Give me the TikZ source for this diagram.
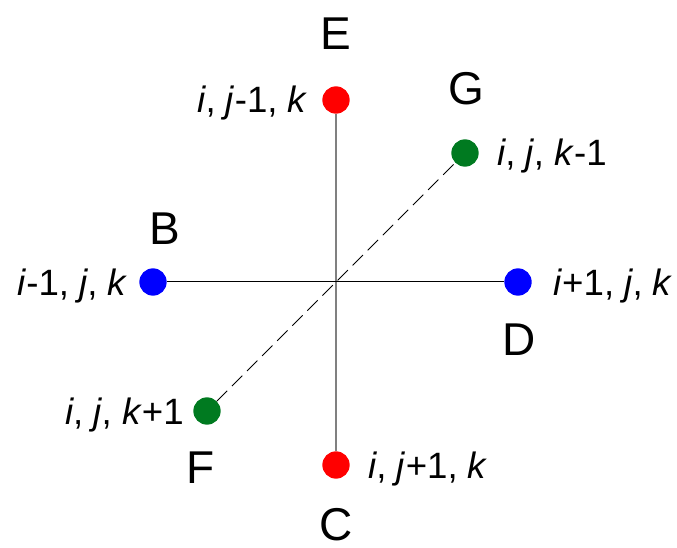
\documentclass[tikz,border=0pt]{standalone}
\usepackage{fontspec}
\setmainfont{Liberation Sans}
\begin{document}
\begin{tikzpicture}[x=0.75pt,y=-0.75pt,
  dot/.style={circle, inner sep=0pt, minimum size=20.5pt},
  reddot/.style={dot, fill={rgb,255:red,255;green,0;blue,0}},
  bluedot/.style={dot, fill={rgb,255:red,0;green,0;blue,255}},
  greendot/.style={dot, fill={rgb,255:red,0;green,122;blue,32}},
  lbl/.style={font=\fontsize{27.5}{32}\selectfont, inner sep=0pt},
  letter/.style={font=\fontsize{34.5}{40}\selectfont, inner sep=0pt, anchor=base},
  vline/.style={draw={rgb,255:red,128;green,128;blue,128}, line width=1pt},
  hline/.style={draw=black, line width=0.75pt},
  dline/.style={draw=black, line width=0.6pt, dash pattern=on 11pt off 5pt}]
\useasboundingbox (0,0) rectangle (677,548);
% dots
\node[reddot] (E) at (336,100) {};
\node[reddot] (C) at (336,465) {};
\node[bluedot] (B) at (153,282) {};
\node[bluedot] (D) at (518,282) {};
\node[greendot] (G) at (465,153) {};
\node[greendot] (F) at (207,411) {};
% connectors
\draw[vline] (E) -- (C);
\draw[hline] (B) -- (D);
\draw[dline] (F) -- (G);
% letters
\node[letter] (tE) at (336,50) {E};
\node[letter] (tG) at (466,105) {G};
\node[letter] (tB) at (164.5,245) {B};
\node[letter] (tD) at (519.5,355) {D};
\node[letter] (tF) at (200.5,483) {F};
\node[letter] (tC) at (336.5,540) {C};
% labels
\node[lbl, anchor=base east] (lE) at (308,113) {\textit{i}, \textit{j}-1, \textit{k}};
\node[lbl, anchor=base west] (lG) at (497,166) {\textit{i}, \textit{j}, \textit{k}-1};
\node[lbl, anchor=base east] (lB) at (128,296) {\textit{i}-1, \textit{j}, \textit{k}};
\node[lbl, anchor=base west] (lD) at (553,296) {\textit{i}+1, \textit{j}, \textit{k}};
\node[lbl, anchor=base east] (lF) at (184,424) {\textit{i}, \textit{j}, \textit{k}+1};
\node[lbl, anchor=base west] (lC) at (368,478) {\textit{i}, \textit{j}+1, \textit{k}};
\end{tikzpicture}
\end{document}
